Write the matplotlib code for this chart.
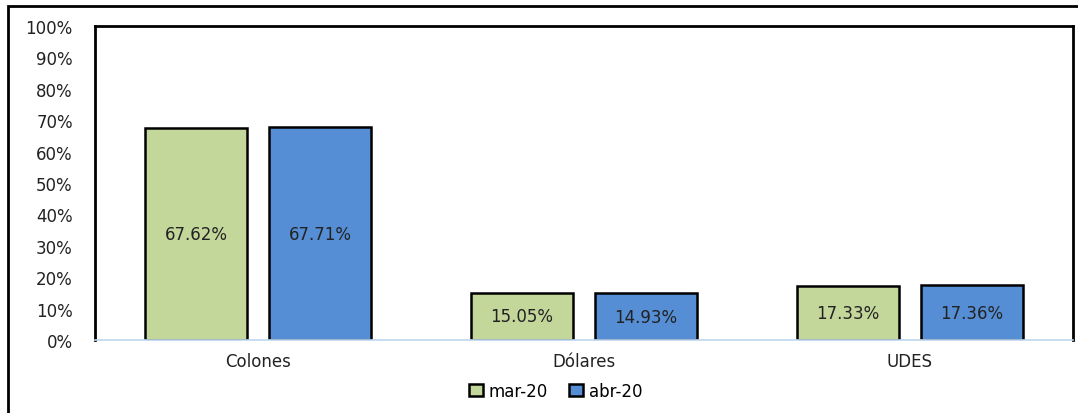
import numpy as np
import matplotlib.pyplot as plt
from matplotlib.patches import Rectangle

categories = ['Colones', 'Dólares', 'UDES']
series_names = ['mar-20', 'abr-20']
mar20 = [67.62, 15.05, 17.33]
abr20 = [67.71, 14.93, 17.36]
colors = ['#C4D79B', '#558ED5']

W, H = 1078, 414
fig = plt.figure(figsize=(W / 100, H / 100), dpi=100)

# outer chart frame (runs off the right and bottom of the picture)
fig.patches.append(Rectangle((8 / W, -0.1), 1.2, 1 - 7 / H + 0.1,
                             transform=fig.transFigure, fill=False,
                             edgecolor='black', linewidth=2))

ax = fig.add_axes([95 / W, 1 - 341 / H, (1073 - 95) / W, (341 - 27) / H])

fs = 12
x = np.arange(len(categories))
width = 0.313
offset = 0.19
for i, (vals, name) in enumerate(zip([mar20, abr20], series_names)):
    pos = x + (i * 2 - 1) * offset
    bars = ax.bar(pos, vals, width=width, color=colors[i], edgecolor='black',
                  linewidth=1.8, label=name)
    for b, v in zip(bars, vals):
        ax.text(b.get_x() + b.get_width() / 2, v / 2, f'{v:.2f}%',
                ha='center', va='center', fontsize=fs, color='#222222')

ax.set_xlim(-0.5, 2.5)
ax.set_ylim(0, 100)
ax.set_yticks(range(0, 101, 10))
ax.set_yticklabels([f'{t}%' for t in range(0, 101, 10)])
ax.set_xticks(x)
ax.set_xticklabels(categories)
ax.tick_params(axis='both', length=0, labelsize=fs, colors='#222222')
ax.tick_params(axis='y', pad=16)
ax.tick_params(axis='x', pad=9)

for s in ['left', 'top', 'right']:
    ax.spines[s].set_linewidth(2)
    ax.spines[s].set_color('black')
ax.spines['bottom'].set_color('#BDD7EE')
ax.spines['bottom'].set_linewidth(1.2)

ax.legend(loc='upper center', bbox_to_anchor=(0.471, -0.085), ncol=2,
          frameon=False, fontsize=fs, handlelength=0.8, handleheight=0.8,
          handletextpad=0.35, columnspacing=1.3)

fig.savefig('out.png', dpi=100)
